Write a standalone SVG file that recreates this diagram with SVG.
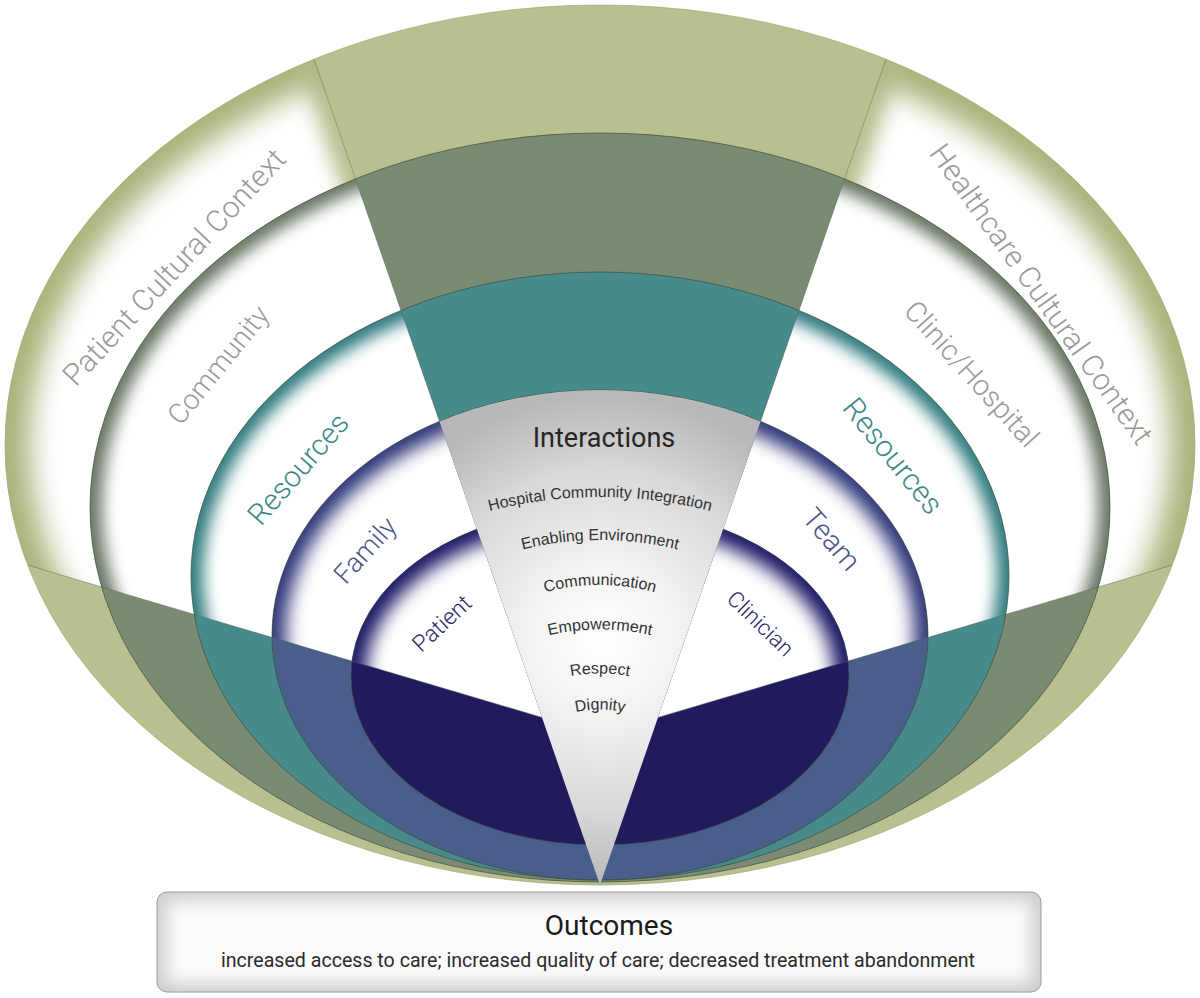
<svg xmlns="http://www.w3.org/2000/svg" width="1200" height="998" viewBox="0 0 1200 998">
<style>
.edge{fill:none;stroke:#3d4b3f;stroke-opacity:.7;stroke-width:1}
.div{fill:none;stroke:#56624f;stroke-opacity:.6;stroke-width:.8}
.lbl{font-family:Roboto,"Liberation Sans",Arial,sans-serif;font-weight:300;text-anchor:middle}
.gray{fill:#9a9a9a}
.teal{fill:#3d898b}
.blue{fill:#4a5487}
.navy{fill:#28276a}
.small{font-family:"Liberation Sans",Arial,sans-serif;font-size:16px;fill:#333;text-anchor:middle}
</style>
<defs>
<clipPath id="side"><path d="M0,0 L293.5,0 L542,717.4 L0,556.9 Z M1200,0 L906.5,0 L658,717.4 L1200,556.9 Z"/></clipPath>
<clipPath id="c1"><ellipse cx="600" cy="445" rx="595" ry="440"/></clipPath>
<clipPath id="c2"><ellipse cx="600" cy="507.5" rx="510" ry="374.5"/></clipPath>
<clipPath id="c3"><ellipse cx="600" cy="576" rx="409" ry="304"/></clipPath>
<clipPath id="c4"><ellipse cx="600" cy="635" rx="328" ry="245"/></clipPath>
<clipPath id="c5"><ellipse cx="600" cy="676" rx="249" ry="169"/></clipPath>
<clipPath id="cbox"><rect x="157" y="892" width="884" height="100" rx="10"/></clipPath>
<filter id="b14" filterUnits="userSpaceOnUse" x="-100" y="-100" width="1400" height="1200"><feGaussianBlur stdDeviation="14"/></filter>
<filter id="b10" filterUnits="userSpaceOnUse" x="-100" y="-100" width="1400" height="1200"><feGaussianBlur stdDeviation="10"/></filter>
<filter id="b8" filterUnits="userSpaceOnUse" x="-100" y="-100" width="1400" height="1200"><feGaussianBlur stdDeviation="8"/></filter>
<filter id="b9" filterUnits="userSpaceOnUse" x="-100" y="-100" width="1400" height="1200"><feGaussianBlur stdDeviation="9"/></filter>
<radialGradient id="wedgeG" gradientUnits="userSpaceOnUse" cx="603" cy="640" r="245">
<stop offset="0" stop-color="#ffffff"/>
<stop offset="0.3" stop-color="#f3f3f3"/>
<stop offset="0.7" stop-color="#d8d8d8"/>
<stop offset="1" stop-color="#b8b8b8"/>
</radialGradient>
</defs>

<g id="patient-cultural-context-band">
<ellipse cx="600" cy="445" rx="595" ry="440" fill="#b9bf8f"/>
<g clip-path="url(#side)"><g clip-path="url(#c1)">
<ellipse cx="600" cy="445" rx="595" ry="440" fill="#aab27a"/>
<ellipse cx="600" cy="445" rx="570" ry="415" fill="#fff" filter="url(#b14)"/>
<path d="M293.5,0 L542,717.4 M906.5,0 L658,717.4" stroke="#b3ba86" stroke-width="30" fill="none" filter="url(#b10)"/>
</g></g>
</g>

<g id="community-band">
<ellipse cx="600" cy="507.5" rx="510" ry="374.5" fill="#7a8b73"/>
<g clip-path="url(#side)"><g clip-path="url(#c2)">
<ellipse cx="600" cy="507.5" rx="510" ry="374.5" fill="#667662"/>
<ellipse cx="600" cy="507.5" rx="498" ry="362.5" fill="#fff" filter="url(#b8)"/>
</g></g>
</g>

<g id="resources-band">
<ellipse cx="600" cy="576" rx="409" ry="304" fill="#468a8c"/>
<g clip-path="url(#side)"><g clip-path="url(#c3)">
<ellipse cx="600" cy="576" rx="409" ry="304" fill="#2e7a7e"/>
<ellipse cx="600" cy="576" rx="397" ry="292" fill="#fff" filter="url(#b8)"/>
</g></g>
</g>

<g id="family-team-band">
<ellipse cx="600" cy="635" rx="328" ry="245" fill="#4a5e8b"/>
<g clip-path="url(#side)"><g clip-path="url(#c4)">
<ellipse cx="600" cy="635" rx="328" ry="245" fill="#2f3578"/>
<ellipse cx="600" cy="635" rx="314" ry="231" fill="#fff" filter="url(#b9)"/>
</g></g>
</g>

<g id="patient-clinician-band">
<ellipse cx="600" cy="676" rx="249" ry="169" fill="#1f1b5c"/>
<g clip-path="url(#side)"><g clip-path="url(#c5)">
<ellipse cx="600" cy="676" rx="249" ry="169" fill="#1c1966"/>
<ellipse cx="600" cy="676" rx="234" ry="154" fill="#fff" filter="url(#b9)"/>
</g></g>
</g>

<g id="connectors">
<g clip-path="url(#c1)">
<path class="div" d="M293.5,0 L439.5,421.4 M906.5,0 L760.5,421.4 M0,556.9 L542,717.4 M1200,556.9 L658,717.4"/>
</g>
<ellipse class="edge" cx="600" cy="445" rx="595" ry="440" style="stroke:#a4ab74"/>
<ellipse class="edge" cx="600" cy="507.5" rx="510" ry="374.5"/>
<ellipse class="edge" cx="600" cy="576" rx="409" ry="304"/>
<ellipse class="edge" cx="600" cy="635" rx="328" ry="245"/>
<ellipse class="edge" cx="600" cy="676" rx="249" ry="169"/>
</g>

<g id="interactions-wedge">
<path d="M439.5,421.4 A328,245 0 0 1 760.5,421.4 L600,885 Z" fill="url(#wedgeG)"/>
<text class="lbl" x="604" y="447" font-size="27" fill="#262626" style="font-weight:400">Interactions</text>
<path id="a1" d="M400,545.1 A440,440 0 0 1 800,545.1" fill="none"/>
<path id="a2" d="M450,577.2 A321,321 0 0 1 750,577.2" fill="none"/>
<path id="a3" d="M480,623.3 A207,207 0 0 1 720,623.3" fill="none"/>
<path id="a4" d="M480,663.6 A228,228 0 0 1 720,663.6" fill="none"/>
<path id="a5" d="M520,694.9 A160,160 0 0 1 680,694.9" fill="none"/>
<path id="a6" d="M540,727.3 A110,110 0 0 1 660,727.3" fill="none"/>
<text class="small"><textPath href="#a1" startOffset="50%">Hospital Community Integration</textPath></text>
<text class="small"><textPath href="#a2" startOffset="50%">Enabling Environment</textPath></text>
<text class="small"><textPath href="#a3" startOffset="50%">Communication</textPath></text>
<text class="small"><textPath href="#a4" startOffset="50%">Empowerment</textPath></text>
<text class="small"><textPath href="#a5" startOffset="50%">Respect</textPath></text>
<text class="small"><textPath href="#a6" startOffset="50%">Dignity</textPath></text>
</g>

<g id="labels-left">
<text class="lbl gray" font-size="30" transform="translate(181.7,274) rotate(-47)">Patient Cultural Context</text>
<text class="lbl gray" font-size="28" transform="translate(225.7,371) rotate(-51)">Community</text>
<text class="lbl teal" font-size="29.5" transform="translate(305.8,475.5) rotate(-49)">Resources</text>
<text class="lbl blue" font-size="27" transform="translate(371.9,556.4) rotate(-48)">Family</text>
<text class="lbl navy" font-size="23" transform="translate(447.2,629.2) rotate(-43)">Patient</text>
</g>

<g id="labels-right">
<text class="lbl gray" font-size="30" transform="translate(1033,300) rotate(54.5)">Healthcare Cultural Context</text>
<text class="lbl gray" font-size="28.8" transform="translate(964.3,380.5) rotate(48)">Clinic/Hospital</text>
<text class="lbl teal" font-size="30" transform="translate(885,462.4) rotate(51)">Resources</text>
<text class="lbl blue" font-size="28.7" transform="translate(824.1,545.8) rotate(49)">Team</text>
<text class="lbl navy" font-size="22.3" transform="translate(755.2,629) rotate(44)">Clinician</text>
</g>

<g id="outcomes">
<g clip-path="url(#cbox)">
<rect x="157" y="892" width="884" height="100" fill="#cfcfcf"/>
<rect x="167" y="901" width="864" height="82" rx="6" fill="#fbfbfb" filter="url(#b8)"/>
</g>
<rect x="157" y="892" width="884" height="100" rx="10" fill="none" stroke="#9a9a9a" stroke-width="1"/>
<text class="lbl" x="609" y="935" font-size="28" fill="#1a1a1a" style="font-weight:400">Outcomes</text>
<text class="lbl" x="598" y="967" font-size="19.6" fill="#2a2a2a" style="font-weight:400">increased access to care; increased quality of care; decreased treatment abandonment</text>
</g>
</svg>
